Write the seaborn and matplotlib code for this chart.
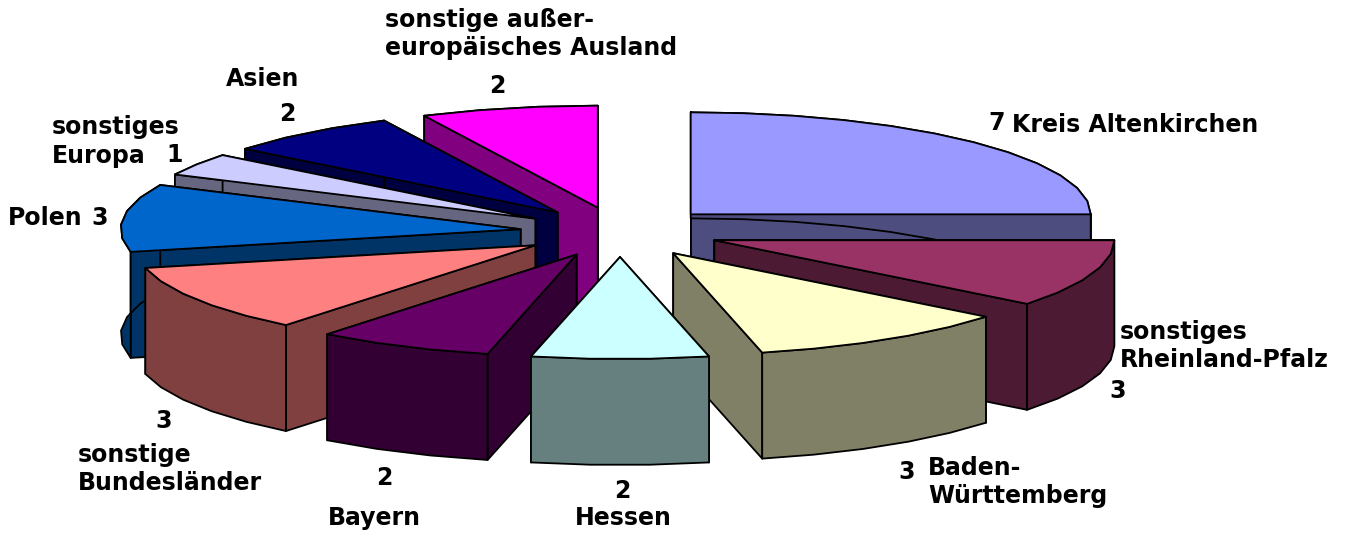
import numpy as np
import seaborn as sns
import matplotlib.pyplot as plt

# ############### Data ###############
categories = ['Kreis Altenkirchen', 'sonstiges Rheinland-Pfalz', 'Baden-Württemberg', 'Hessen', 'Bayern',
              'sonstige Bundesländer', 'Polen', 'sonstiges Europa', 'Asien', 'sonstige außereuropäisches Ausland']
values = [7, 3, 3, 2, 2, 3, 3, 1, 2, 2]
top_colors = ['#9999FF', '#993366', '#FFFFCC', '#CCFFFF', '#660066',
              '#FF8080', '#0066CC', '#CCCCFF', '#000080', '#FF00FF']

# ############### Pie geometry ###############
center_x, center_y = 620, 232
radius_x, radius_y = 400, 102
explode_x, explode_y = 100, 25
depth = 106
arc_step = 7  # degrees per facet, the original pie is rough too


def project(angle, radius, off_x, off_y, drop=0.0):
    return (off_x + radius * radius_x * np.sin(angle),
            off_y - radius * radius_y * np.cos(angle) + drop)


def half_tone(color):
    rgb = np.array(plt.matplotlib.colors.to_rgb(color))
    return tuple(rgb * 0.5)


sns.set_theme(style='white')
plt.rcParams['font.family'] = ['DejaVu Sans']
fig, ax = plt.subplots(figsize=(13.51, 5.36), dpi=100)
ax.set_position([0, 0, 1, 1])

edges = np.cumsum([0] + values) / np.sum(values) * 2 * np.pi
slices = []
for i, color in enumerate(top_colors):
    start, end = edges[i], edges[i + 1]
    mid = (start + end) / 2
    off_x = center_x + explode_x * np.sin(mid)
    off_y = center_y - explode_y * np.cos(mid)
    slices.append((off_y - np.cos(mid) * radius_y * 0.6, start, end, off_x, off_y, color))

# back slices first so that the front ones cover them
for _, start, end, off_x, off_y, color in sorted(slices, key=lambda s: s[0]):
    n_facets = max(2, int(np.degrees(end - start) / arc_step))
    arc = np.linspace(start, end, n_facets + 1)
    arc_x, arc_y = project(arc, 1.0, off_x, off_y)
    shade = half_tone(color)
    style = dict(facecolor=shade, edgecolor='black', linewidth=1.3, joinstyle='round')

    walls = [([off_x, arc_x[0], arc_x[0], off_x],
              [off_y, arc_y[0], arc_y[0] + depth, off_y + depth]),
             ([off_x, arc_x[-1], arc_x[-1], off_x],
              [off_y, arc_y[-1], arc_y[-1] + depth, off_y + depth]),
             (np.r_[arc_x, arc_x[::-1]], np.r_[arc_y, arc_y[::-1] + depth])]
    for wall_x, wall_y in sorted(walls, key=lambda w: np.max(w[1])):
        ax.fill(wall_x, wall_y, **style)
    ax.fill(np.r_[off_x, arc_x], np.r_[off_y, arc_y], facecolor=color, edgecolor='black',
            linewidth=1.3, joinstyle='round')

# ############### Labels ###############
labels = [
    (385, 20, 'sonstige außer-'), (385, 48, 'europäisches Ausland'), (497, 86, '2'),
    (226, 79, 'Asien'), (287, 114, '2'),
    (52, 127, 'sonstiges'), (52, 156, 'Europa'), (175, 155, '1'),
    (8, 218, 'Polen'), (100, 218, '3'),
    (997, 123, '7'), (1012, 125, 'Kreis Altenkirchen'),
    (1120, 332, 'sonstiges'), (1120, 360, 'Rheinland-Pfalz'), (1118, 391, '3'),
    (907, 472, '3'), (928, 468, 'Baden-'), (928, 496, 'Württemberg'),
    (622, 491, '2'), (575, 518, 'Hessen'),
    (384, 478, '2'), (328, 518, 'Bayern'),
    (164, 421, '3'), (78, 455, 'sonstige'), (78, 483, 'Bundesländer'),
]
for x, y, text in labels:
    single = len(text) == 1
    ax.text(x, y, text, fontsize=17, fontweight='bold', color='black', va='center',
            ha='center' if single else 'left')

ax.set_xlim(0, 1351)
ax.set_ylim(536, 0)
ax.axis('off')
sns.despine(ax=ax, left=True, bottom=True)
fig.savefig('out.png', dpi=100, facecolor='white')
